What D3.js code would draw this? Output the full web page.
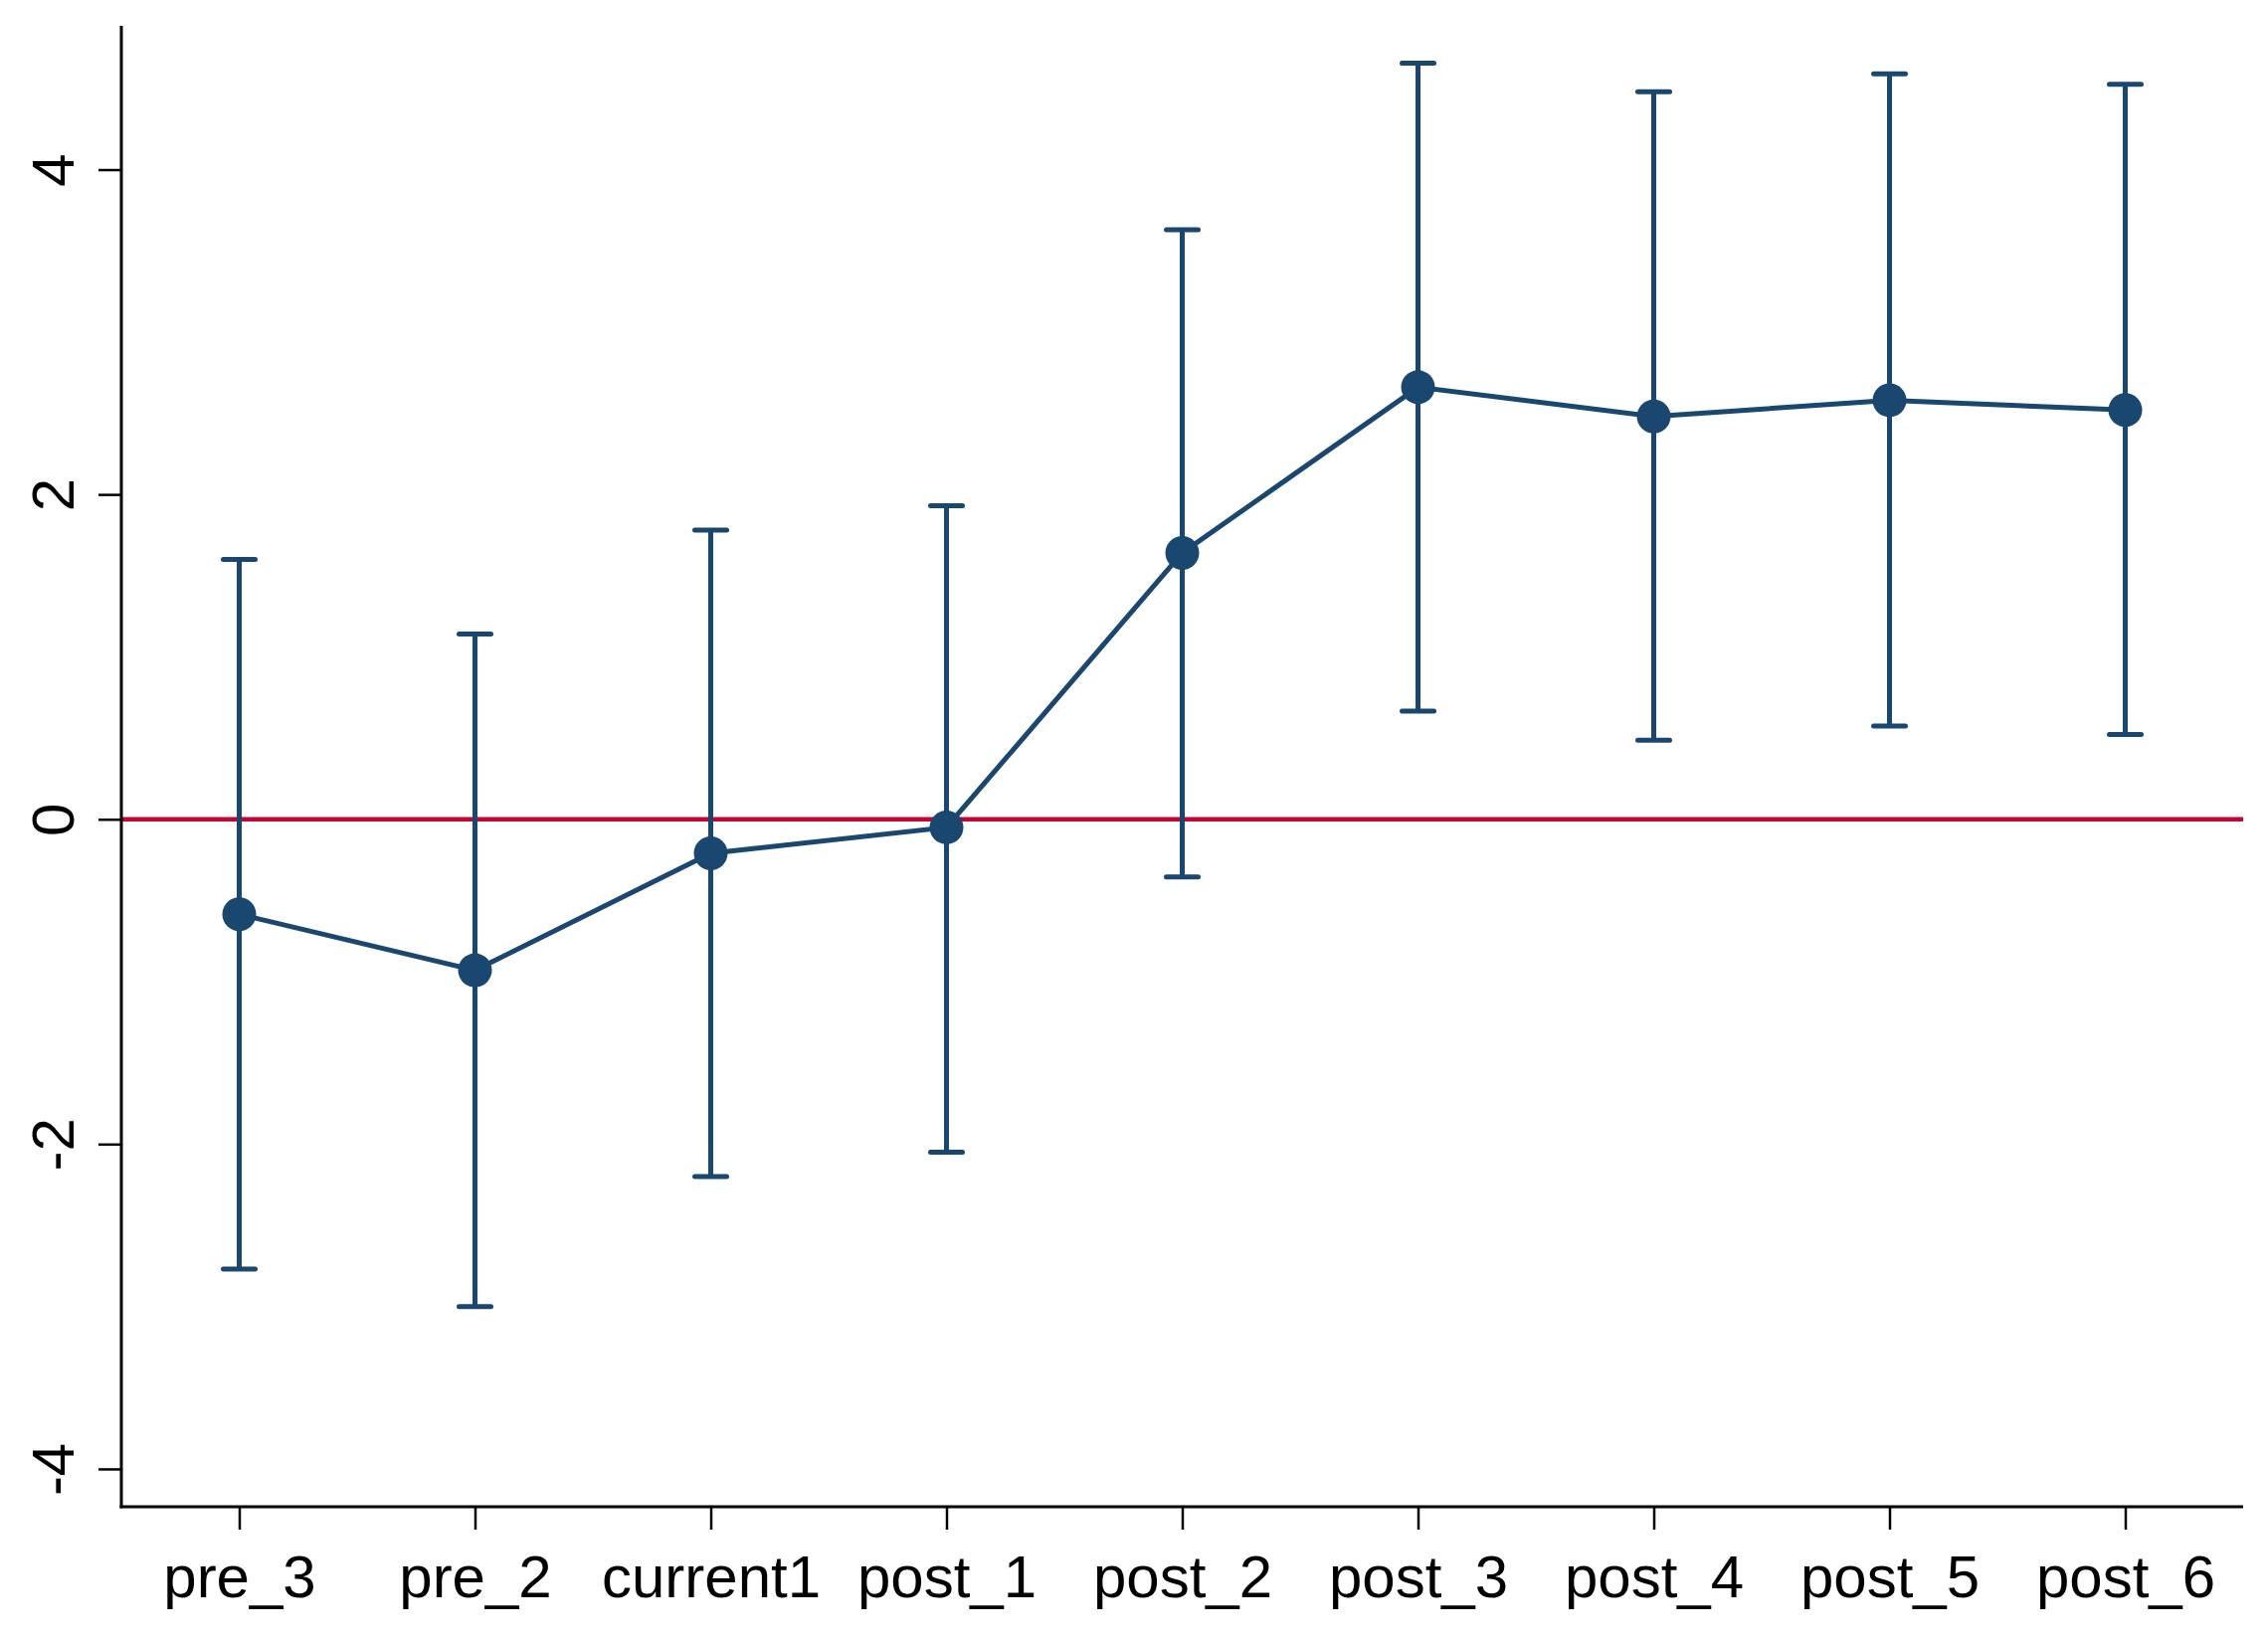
<!DOCTYPE html>
<html>
<head>
<meta charset="utf-8">
<script src="https://cdn.jsdelivr.net/npm/d3@7"></script>
<style>
  html, body { margin: 0; padding: 0; background: #ffffff; }
  svg { display: block; }
  text { font-family: "Liberation Sans", Arial, sans-serif; }
</style>
</head>
<body>
<svg id="chart" width="2280" height="1651"></svg>
<script>
const categories = ["pre_3", "pre_2", "current1", "post_1", "post_2", "post_3", "post_4", "post_5", "post_6"];
const estimates  = [-0.585, -0.93, -0.21, -0.05, 1.64, 2.66, 2.48, 2.58, 2.52];
const upperCI    = [1.60, 1.14, 1.78, 1.93, 3.63, 4.655, 4.48, 4.59, 4.525];
const lowerCI    = [-2.77, -3.00, -2.20, -2.05, -0.355, 0.666, 0.486, 0.574, 0.522];
const yTicks     = [-4, -2, 0, 2, 4];

(function () {
const svg = d3.select("#chart");
const W = 2280, H = 1651;
svg.append("rect").attr("width", W).attr("height", H).attr("fill", "#ffffff");

const mLeft = 122, mRight = 2255, mTop = 26, mBottom = 1515;
const navy = "#1a476f";
const red = "#c10534";

const x = d3.scaleLinear().domain([0.5, categories.length + 0.5]).range([mLeft, mRight]);
const y = d3.scaleLinear().domain([-4.233, 4.885]).range([mBottom, mTop]);

const data = categories.map((c, i) => ({c, i: i + 1, est: estimates[i], lo: lowerCI[i], hi: upperCI[i]}));

// zero reference line
svg.append("line")
  .attr("x1", mLeft).attr("x2", mRight)
  .attr("y1", y(0)).attr("y2", y(0))
  .attr("stroke", red).attr("stroke-width", 4.5);

// error bars
const eb = svg.append("g");
eb.selectAll("line.v").data(data).enter().append("line")
  .attr("x1", d => x(d.i)).attr("x2", d => x(d.i))
  .attr("y1", d => y(d.lo)).attr("y2", d => y(d.hi))
  .attr("stroke", navy).attr("stroke-width", 5);
const capW = 16;
eb.selectAll("line.top").data(data).enter().append("line")
  .attr("x1", d => x(d.i) - capW).attr("x2", d => x(d.i) + capW)
  .attr("y1", d => y(d.hi)).attr("y2", d => y(d.hi))
  .attr("stroke", navy).attr("stroke-width", 5).attr("stroke-linecap", "round");
eb.selectAll("line.bot").data(data).enter().append("line")
  .attr("x1", d => x(d.i) - capW).attr("x2", d => x(d.i) + capW)
  .attr("y1", d => y(d.lo)).attr("y2", d => y(d.lo))
  .attr("stroke", navy).attr("stroke-width", 5).attr("stroke-linecap", "round");

// connecting line
svg.append("path").datum(data)
  .attr("d", d3.line().x(d => x(d.i)).y(d => y(d.est)))
  .attr("fill", "none").attr("stroke", navy).attr("stroke-width", 5);

// markers
svg.selectAll("circle.pt").data(data).enter().append("circle")
  .attr("cx", d => x(d.i)).attr("cy", d => y(d.est)).attr("r", 17)
  .attr("fill", navy);

// Y axis
const yAxis = d3.axisLeft(y).tickValues(yTicks).tickSize(23).tickPadding(0)
  .tickFormat(d => String(d));
const gy = svg.append("g").attr("transform", `translate(${mLeft},0)`).call(yAxis);
gy.select(".domain").remove();
gy.selectAll(".tick line").attr("stroke", "#000").attr("stroke-width", 2.5);
gy.selectAll(".tick text")
  .attr("x", 0).attr("y", 0)
  .attr("transform", "translate(-48,0) rotate(-90)")
  .attr("text-anchor", "middle")
  .attr("dy", 0)
  .attr("font-size", 60)
  .attr("fill", "#000");

// X axis
const xAxis = d3.axisBottom(x).tickValues(d3.range(1, categories.length + 1)).tickSize(23).tickPadding(0)
  .tickFormat(d => categories[d - 1]);
const gx = svg.append("g").attr("transform", `translate(0,${mBottom})`).call(xAxis);
gx.select(".domain").remove();
gx.selectAll(".tick line").attr("stroke", "#000").attr("stroke-width", 2.5);
gx.selectAll(".tick text")
  .attr("y", 91).attr("dy", 0)
  .attr("font-size", 60)
  .attr("fill", "#000");

// axis lines
svg.append("line").attr("x1", mLeft).attr("x2", mLeft).attr("y1", mTop).attr("y2", mBottom + 1.5)
  .attr("stroke", "#000").attr("stroke-width", 3);
svg.append("line").attr("x1", mLeft - 1.5).attr("x2", mRight).attr("y1", mBottom).attr("y2", mBottom)
  .attr("stroke", "#000").attr("stroke-width", 3);
})();
</script>
</body>
</html>
